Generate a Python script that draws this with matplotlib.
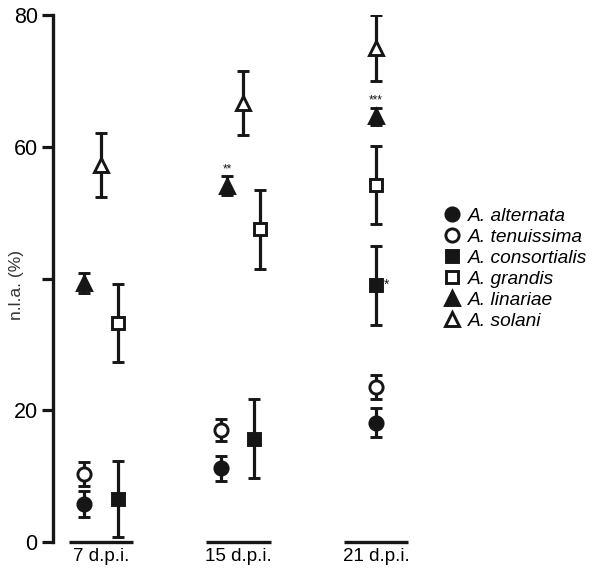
import numpy as np
import matplotlib
matplotlib.use('Agg')
import matplotlib.pyplot as plt
from matplotlib.lines import Line2D

plt.rcParams['font.family'] = ['Liberation Sans', 'DejaVu Sans']

# data: n.l.a. (%) mean and error, per species, per time point (7, 15, 21 d.p.i.)
groups = ['7 d.p.i.', '15 d.p.i.', '21 d.p.i.']
species = ['A. alternata', 'A. tenuissima', 'A. consortialis',
           'A. grandis', 'A. linariae', 'A. solani']
alternata = [5.8, 11.2, 18.1]
alternata_err = [2.0, 1.9, 2.2]
tenuissima = [10.3, 17.0, 23.5]
tenuissima_err = [1.8, 1.7, 1.8]
consortialis = [6.5, 15.7, 39.0]
consortialis_err = [5.8, 6.0, 6.0]
grandis = [33.3, 47.5, 54.2]
grandis_err = [5.9, 6.0, 5.9]
linariae = [39.3, 54.1, 64.6]
linariae_err = [1.5, 1.4, 1.3]
solani = [57.2, 66.6, 75.0]
solani_err = [4.85, 4.85, 5.0]

means = [alternata, tenuissima, consortialis, grandis, linariae, solani]
errs = [alternata_err, tenuissima_err, consortialis_err, grandis_err, linariae_err, solani_err]

# significance marks: (species index, group index, text)
stars = [(4, 1, '**'), (4, 2, '***'), (2, 2, '*')]

# horizontal jitter of each species inside a group (layout only)
offsets = [
    [-0.12, -0.126, 0.0],
    [-0.12, -0.126, 0.0],
    [0.124, 0.116, 0.0],
    [0.124, 0.153, 0.0],
    [-0.12, -0.082, 0.0],
    [0.0, 0.036, 0.0],
]
markers = ['o', 'o', 's', 's', '^', '^']
filled = [True, False, True, False, True, False]
ink = '#161616'

fig = plt.figure(figsize=(6.0, 5.69), dpi=100)
ax = fig.add_axes([53 / 600, 1 - 542 / 569, (430 - 53) / 600, (542 - 15) / 569])

xc = np.arange(len(groups))
for i in range(len(species)):
    xs = xc + np.array(offsets[i])
    ax.errorbar(xs, means[i], yerr=errs[i], fmt=markers[i], color=ink,
                ecolor=ink, elinewidth=2.3, capsize=4, capthick=2.3,
                markersize=9.5 if markers[i] != 's' else 8.5,
                markerfacecolor=ink if filled[i] else 'white',
                markeredgecolor=ink, markeredgewidth=2.1, zorder=3)

for si, gi, txt in stars:
    x = xc[gi] + offsets[si][gi]
    y = means[si][gi] + errs[si][gi]
    if txt == '*':
        ax.text(x + 0.06, means[si][gi], txt, fontsize=10, ha='left', va='center', color=ink)
    else:
        ax.text(x, y + 0.2, txt, fontsize=8.5, ha='center', va='bottom', color=ink)

# group bars under each time point
for g in xc:
    ax.plot([g - 0.233, g + 0.233], [0, 0], color=ink, lw=2.4, clip_on=False,
            solid_capstyle='butt')

ax.set_xlim(-0.349, 2.393)
ax.set_ylim(0, 80)
ax.set_yticks([0, 20, 40, 60, 80])
ax.set_yticklabels(['0', '20', '', '60', '80'])
ax.set_xticks(xc)
ax.set_xticklabels(groups)
ax.tick_params(axis='x', length=0, pad=4, labelsize=13.5)
ax.tick_params(axis='y', length=8, width=2.3, labelsize=15.5, color=ink, pad=3)
for s in ['top', 'right', 'bottom']:
    ax.spines[s].set_visible(False)
ax.spines['left'].set_linewidth(2.4)
ax.spines['left'].set_color(ink)
ax.set_ylabel('n.l.a. (%)', fontsize=12.5, color='#333333')
ax.yaxis.set_label_coords(-0.076, 0.488)

handles = []
for i in range(len(species)):
    handles.append(Line2D([], [], linestyle='none', marker=markers[i],
                          markersize=9.5 if markers[i] != 's' else 8.5,
                          markerfacecolor=ink if filled[i] else 'white',
                          markeredgecolor=ink, markeredgewidth=2.1))
leg = fig.legend(handles, species, loc='center left', bbox_to_anchor=(423 / 600, 1 - 268.5 / 569),
                 frameon=False, handletextpad=0.25, labelspacing=0.19, fontsize=13.8,
                 handlelength=1.2)
for t in leg.get_texts():
    t.set_fontstyle('italic')

fig.savefig('out.png', dpi=100)
